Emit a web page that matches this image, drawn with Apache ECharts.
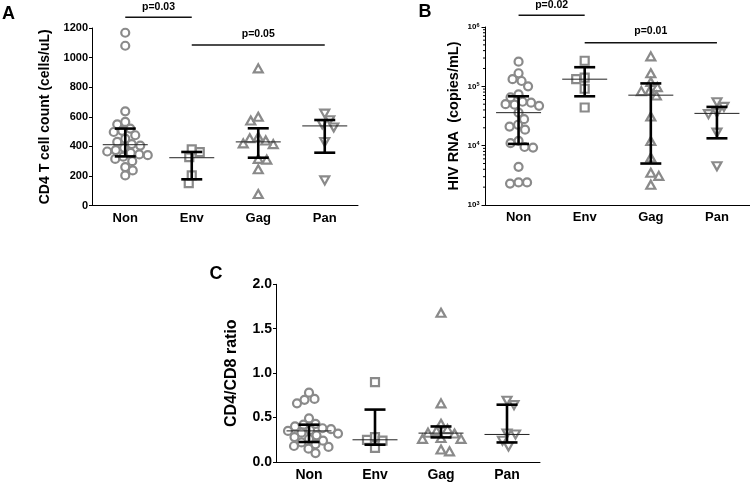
<!DOCTYPE html>
<html><head><meta charset="utf-8">
<script src="https://cdn.jsdelivr.net/npm/echarts@6/dist/echarts.min.js"></script>
<style>html,body{margin:0;padding:0;background:#fff}#c{width:750px;height:482px}</style>
</head><body><div id="c"></div>
<script>
const cats = ['Non', 'Env', 'Gag', 'Pan'];

// Panel A: CD4 T cell count (cells/uL)
const cd4Non = [1168, 1080, 637, 565, 549, 520, 505, 497, 475, 452, 430, 415, 405, 390, 375, 365, 355, 345, 340, 330, 315, 300, 260, 237, 203];
const cd4Env = [380, 361, 327, 203, 151];
const cd4Gag = [927, 600, 575, 465, 455, 440, 420, 415, 315, 310, 245, 78];
const cd4Pan = [621, 576, 549, 527, 429, 170];
const cd4Median = [411, 323, 430, 538];
const cd4Q1 = [332, 177, 323, 357];
const cd4Q3 = [520, 362, 522, 578];
const cd4Ticks = [0, 200, 400, 600, 800, 1000, 1200];

// Panel B: HIV RNA (copies/mL)
const rnaNon = [260000, 166000, 132000, 123000, 100000, 73000, 65000, 55000, 53000, 50000, 49000, 47000, 36000, 28000, 22500, 21000, 18600, 12000, 11000, 9500, 9300, 4400, 2400, 2400, 2300];
const rnaEnv = [270000, 140000, 132000, 91000, 44000];
const rnaGag = [320000, 166000, 118000, 97000, 85000, 83000, 70000, 31000, 12000, 6300, 3500, 3100, 2200];
const rnaPan = [54000, 45000, 36000, 34000, 16600, 4500];
const rnaMedian = [36000, 132000, 71000, 35000];
const rnaQ1 = [10700, 68000, 5000, 13300];
const rnaQ3 = [68000, 210000, 112000, 45000];
const rnaTickExponents = [3, 4, 5, 6];

// Panel C: CD4/CD8 ratio
const ratioNon = [0.78, 0.71, 0.70, 0.66, 0.49, 0.43, 0.42, 0.40, 0.38, 0.37, 0.36, 0.35, 0.33, 0.32, 0.30, 0.28, 0.26, 0.24, 0.22, 0.20, 0.18, 0.17, 0.15, 0.10];
const ratioEnv = [0.90, 0.28, 0.25, 0.24, 0.16];
const ratioGag = [1.68, 0.66, 0.43, 0.37, 0.35, 0.33, 0.32, 0.27, 0.26, 0.26, 0.14, 0.12];
const ratioPan = [0.69, 0.64, 0.32, 0.31, 0.24, 0.175];
const ratioMedian = [0.35, 0.25, 0.325, 0.31];
const ratioQ1 = [0.225, 0.195, 0.277, 0.22];
const ratioQ3 = [0.42, 0.59, 0.40, 0.645];
const ratioTicks = [0, 0.5, 1.0, 1.5, 2.0];

// significance annotations: [fromCat, toCat, label]
const sigA = [[0, 1, 'p=0.03'], [1, 3, 'p=0.05']];
const sigB = [[0, 1, 'p=0.02'], [1, 3, 'p=0.01']];

const FONT = '"Liberation Sans", Arial, sans-serif';
const GREY = '#8a8a8a';
const panels = [
  { groups: [cd4Non, cd4Env, cd4Gag, cd4Pan], med: cd4Median, q1: cd4Q1, q3: cd4Q3 },
  { groups: [rnaNon, rnaEnv, rnaGag, rnaPan], med: rnaMedian, q1: rnaQ1, q3: rnaQ3 },
  { groups: [ratioNon, ratioEnv, ratioGag, ratioPan], med: ratioMedian, q1: ratioQ1, q3: ratioQ3 }
];
const symbols = [
  { symbol: 'circle', symbolSize: 8, rotate: 0 },
  { symbol: 'rect', symbolSize: 8, rotate: 0 },
  { symbol: 'triangle', symbolSize: [9, 8], rotate: 0 },
  { symbol: 'triangle', symbolSize: [9, 8], rotate: 180 }
];

const chart = echarts.init(document.getElementById('c'), null, { renderer: 'canvas' });

function xAxisCfg(g, fs) {
  return {
    type: 'category', gridIndex: g, data: cats,
    axisLine: { lineStyle: { color: '#000', width: 1 } },
    axisTick: { alignWithLabel: true, length: 4, lineStyle: { color: '#000' } },
    axisLabel: { color: '#000', fontWeight: 'bold', fontSize: fs, fontFamily: FONT, margin: 6 },
    splitLine: { show: false }
  };
}

function errRender(params, api) {
  const c = api.value(0);
  const pm = api.coord([c, api.value(1)]);
  const pl = api.coord([c, api.value(2)]);
  const ph = api.coord([c, api.value(3)]);
  const x = pm[0];
  return {
    type: 'group', children: [
      { type: 'line', shape: { x1: x - 22.5, y1: pm[1], x2: x + 22.5, y2: pm[1] }, style: { stroke: '#222', lineWidth: 1 } },
      { type: 'line', shape: { x1: x, y1: pl[1], x2: x, y2: ph[1] }, style: { stroke: '#000', lineWidth: 2.6 } },
      { type: 'line', shape: { x1: x - 10.5, y1: pl[1], x2: x + 10.5, y2: pl[1] }, style: { stroke: '#000', lineWidth: 2.6 } },
      { type: 'line', shape: { x1: x - 10.5, y1: ph[1], x2: x + 10.5, y2: ph[1] }, style: { stroke: '#000', lineWidth: 2.6 } }
    ]
  };
}

function buildOption(offsets, graphics) {
  const series = [];
  panels.forEach((p, g) => {
    p.groups.forEach((vals, c) => {
      series.push({
        type: 'scatter', xAxisIndex: g, yAxisIndex: g,
        symbol: symbols[c].symbol, symbolSize: symbols[c].symbolSize, symbolRotate: symbols[c].rotate,
        itemStyle: { color: 'rgba(255,255,255,0)', borderColor: GREY, borderWidth: 2.2, opacity: 1 },
        emphasis: { disabled: true },
        data: vals.map((v, i) => ({ value: [c, v], symbolOffset: [offsets ? offsets[g][c][i] : 0, 0] })),
        z: 2
      });
    });
    series.push({
      type: 'custom', xAxisIndex: g, yAxisIndex: g, renderItem: errRender,
      encode: { x: 0, y: [1, 2, 3] },
      data: cats.map((_, i) => [i, p.med[i], p.q1[i], p.q3[i]]), z: 5
    });
  });
  return {
    animation: false,
    backgroundColor: '#fff',
    grid: [
      { left: 92, top: 28, width: 266, height: 177.5 },
      { left: 485.5, top: 27, width: 268, height: 178 },
      { left: 276, top: 284.3, width: 264, height: 178 }
    ],
    xAxis: [xAxisCfg(0, 13), xAxisCfg(1, 13), xAxisCfg(2, 14)],
    yAxis: [
      {
        type: 'value', gridIndex: 0, min: cd4Ticks[0], max: cd4Ticks[cd4Ticks.length - 1], interval: cd4Ticks[1] - cd4Ticks[0],
        splitLine: { show: false },
        axisLine: { show: true, lineStyle: { color: '#000', width: 1 } },
        axisTick: { show: true, length: 3, lineStyle: { color: '#000' } },
        axisLabel: { color: '#000', fontWeight: 'bold', fontSize: 11, fontFamily: FONT, margin: 4, formatter: v => String(v) },
        name: 'CD4 T cell count (cells/uL)', nameLocation: 'middle', nameGap: 40,
        nameTextStyle: { color: '#000', fontWeight: 'bold', fontSize: 14, fontFamily: FONT }
      },
      {
        type: 'log', logBase: 10, gridIndex: 1, min: Math.pow(10, rnaTickExponents[0]), max: Math.pow(10, rnaTickExponents[rnaTickExponents.length - 1]),
        splitLine: { show: false },
        axisLine: { show: true, lineStyle: { color: '#000', width: 1 } },
        axisTick: { show: true, length: 4, lineStyle: { color: '#000' } },
        axisLabel: {
          color: '#000', fontFamily: FONT, margin: 6,
          formatter: v => '{b|10}{s|' + Math.round(Math.log10(v)) + '}',
          rich: {
            b: { fontSize: 8, fontWeight: 'bold', color: '#000', fontFamily: FONT },
            s: { fontSize: 5.5, fontWeight: 'bold', color: '#000', fontFamily: FONT, verticalAlign: 'top', padding: [0, 0, 4, 0] }
          }
        },
        name: 'HIV RNA  (copies/mL)', nameLocation: 'middle', nameGap: 24,
        nameTextStyle: { color: '#000', fontWeight: 'bold', fontSize: 14.5, fontFamily: FONT }
      },
      {
        type: 'value', gridIndex: 2, min: ratioTicks[0], max: ratioTicks[ratioTicks.length - 1], interval: ratioTicks[1] - ratioTicks[0],
        splitLine: { show: false },
        axisLine: { show: true, lineStyle: { color: '#000', width: 1 } },
        axisTick: { show: true, length: 3, lineStyle: { color: '#000' } },
        axisLabel: { color: '#000', fontWeight: 'bold', fontSize: 14, fontFamily: FONT, margin: 4, formatter: v => v.toFixed(1) },
        name: 'CD4/CD8 ratio', nameLocation: 'middle', nameGap: 36,
        nameTextStyle: { color: '#000', fontWeight: 'bold', fontSize: 16, fontFamily: FONT }
      }
    ],
    series: series,
    graphic: graphics || []
  };
}

chart.setOption(buildOption(null, null));

// beeswarm offsets in pixel space
function swarm(ys, D) {
  const n = ys.length;
  const order = ys.map((y, i) => i).sort((a, b) => ys[a] - ys[b]);
  const placed = [];
  const offs = new Array(n).fill(0);
  order.forEach((i, k) => {
    const y = ys[i];
    const signs = (k % 2) ? [1, -1] : [-1, 1];
    let found = null;
    for (let s = 0; s <= 120 && found === null; s++) {
      const cands = s === 0 ? [0] : signs.map(sg => sg * s * 0.5);
      for (const dx of cands) {
        let ok = true;
        for (const p of placed) {
          const ddx = dx - p[0], ddy = y - p[1];
          if (ddx * ddx + ddy * ddy < D * D) { ok = false; break; }
        }
        if (ok) { found = dx; break; }
      }
    }
    offs[i] = found || 0;
    placed.push([offs[i], y]);
  });
  return offs;
}

const offsets = panels.map((p, g) => p.groups.map((vals, c) => {
  const ys = vals.map(v => chart.convertToPixel({ gridIndex: g }, [c, v])[1]);
  return swarm(ys, 8.2);
}));

const graphics = [];
function txt(x, y, t, fs) {
  graphics.push({ type: 'text', x: x, y: y, silent: true,
    style: { text: t, fill: '#000', font: 'bold ' + fs + 'px ' + FONT, textAlign: 'center', textVerticalAlign: 'middle' } });
}
function hline(x1, x2, y) {
  graphics.push({ type: 'line', silent: true, shape: { x1: x1, y1: y, x2: x2, y2: y }, style: { stroke: '#111', lineWidth: 1.5 } });
}
function catX(g, c) { return chart.convertToPixel({ xAxisIndex: g }, c); }

// panel letters
txt(8.5, 14.5, 'A', 18);
txt(425, 12, 'B', 18);
txt(216, 274.5, 'C', 18);

// significance bars
const sigYA = [[17.3, 7.5], [45, 34]];
sigA.forEach((s, k) => {
  const x1 = catX(0, s[0]), x2 = catX(0, s[1]);
  hline(x1, x2, sigYA[k][0]);
  txt((x1 + x2) / 2, sigYA[k][1], s[2], 10.5);
});
const sigYB = [[15.3, 5], [42.7, 31]];
sigB.forEach((s, k) => {
  const x1 = catX(1, s[0]), x2 = catX(1, s[1]);
  hline(x1, x2, sigYB[k][0]);
  txt((x1 + x2) / 2, sigYB[k][1], s[2], 10.5);
});

// minor ticks on the log axis
const gridLeftB = 485.5;
for (let e = rnaTickExponents[0]; e < rnaTickExponents[rnaTickExponents.length - 1]; e++) {
  for (let m = 2; m <= 9; m++) {
    const y = chart.convertToPixel({ yAxisIndex: 1 }, m * Math.pow(10, e));
    graphics.push({ type: 'line', silent: true, shape: { x1: gridLeftB - 2.5, y1: y, x2: gridLeftB, y2: y }, style: { stroke: '#000', lineWidth: 1 } });
  }
}

chart.setOption(buildOption(offsets, graphics), true);
</script></body></html>
